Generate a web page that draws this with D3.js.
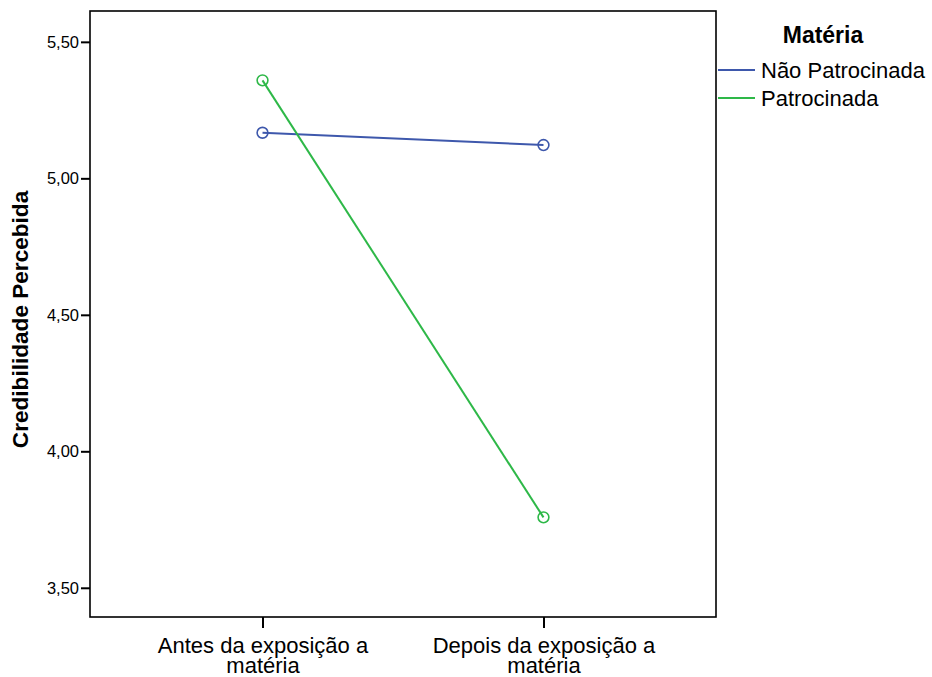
<!DOCTYPE html>
<html>
<head>
<meta charset="utf-8">
<script src="https://cdn.jsdelivr.net/npm/d3@7"></script>
<style>
  body { margin: 0; background: #fff; }
  svg { font-family: Arial, "Liberation Sans", sans-serif; }
</style>
</head>
<body>
<svg id="chart" width="932" height="677"></svg>
<script>
// dados
const momentos = ["Antes da exposição a matéria", "Depois da exposição a matéria"];
const grupos = ["Não Patrocinada", "Patrocinada"];
const naoPatrocinada = [5.167, 5.122];
const patrocinada = [5.359, 3.758];
const yTicks = [3.5, 4.0, 4.5, 5.0, 5.5];
const cores = ["#3e58ac", "#2eb848"];

const series = [naoPatrocinada, patrocinada];
const margin = { top: 11, right: 216, bottom: 60, left: 90 };
const width = 932 - margin.left - margin.right;
const height = 677 - margin.top - margin.bottom;

const svg = d3.select("#chart");
const g = svg.append("g").attr("transform", `translate(${margin.left},${margin.top})`);

const x = d3.scalePoint().domain(momentos).range([0, width]).padding(0.614);
const y = d3.scaleLinear().domain([3.393, 5.613]).range([height, 0]);

const fmt = d => d.toFixed(2).replace(".", ",");

// eixo y
const yAxis = g.append("g")
  .call(d3.axisLeft(y).tickValues(yTicks).tickFormat(fmt).tickSize(9).tickPadding(2));
yAxis.select(".domain").remove();
yAxis.selectAll("line").attr("stroke", "#000").attr("stroke-width", 2);
yAxis.selectAll("text").attr("font-size", 16.5).attr("fill", "#000");

// eixo x (rótulos em duas linhas)
const xAxis = g.append("g").attr("transform", `translate(0,${height})`)
  .call(d3.axisBottom(x).tickSize(11).tickFormat(() => ""));
xAxis.select(".domain").remove();
xAxis.selectAll(".tick text").remove();
xAxis.selectAll("line").attr("stroke", "#000").attr("stroke-width", 2);
xAxis.selectAll(".tick").each(function (d) {
  const words = d.split(" ");
  const linhas = [words.slice(0, -1).join(" "), words[words.length - 1]];
  linhas.forEach((txt, i) => {
    d3.select(this).append("text")
      .attr("x", 0).attr("y", 36 + i * 20)
      .attr("text-anchor", "middle").attr("fill", "#000").attr("font-size", 22)
      .text(txt);
  });
});

// moldura
g.append("rect")
  .attr("width", width).attr("height", height)
  .attr("fill", "none").attr("stroke", "#000").attr("stroke-width", 1.6);

// linhas
const line = d3.line().x((d, i) => x(momentos[i])).y(d => y(d));
series.forEach((s, k) => {
  g.append("path").datum(s)
    .attr("d", line).attr("fill", "none")
    .attr("stroke", cores[k]).attr("stroke-width", 2);
  g.selectAll(null).data(s).join("circle")
    .attr("cx", (d, i) => x(momentos[i])).attr("cy", d => y(d))
    .attr("r", 5.4).attr("fill", "none")
    .attr("stroke", cores[k]).attr("stroke-width", 1.6);
});

// título eixo y
svg.append("text")
  .attr("transform", `translate(28,${margin.top + y(4.483)}) rotate(-90)`)
  .attr("text-anchor", "middle").attr("font-size", 22.6).attr("font-weight", "bold")
  .text("Credibilidade Percebida");

// legenda
const leg = svg.append("g").attr("transform", "translate(718,0)");
leg.append("text").attr("x", 105).attr("y", 43)
  .attr("text-anchor", "middle").attr("font-size", 23).attr("font-weight", "bold")
  .text("Matéria");
grupos.forEach((nome, k) => {
  const yy = 70 + k * 28;
  leg.append("line").attr("x1", 0).attr("x2", 37).attr("y1", yy).attr("y2", yy)
    .attr("stroke", cores[k]).attr("stroke-width", 2);
  leg.append("text").attr("x", 43).attr("y", yy + 8)
    .attr("font-size", 22).text(nome);
});
</script>
</body>
</html>
